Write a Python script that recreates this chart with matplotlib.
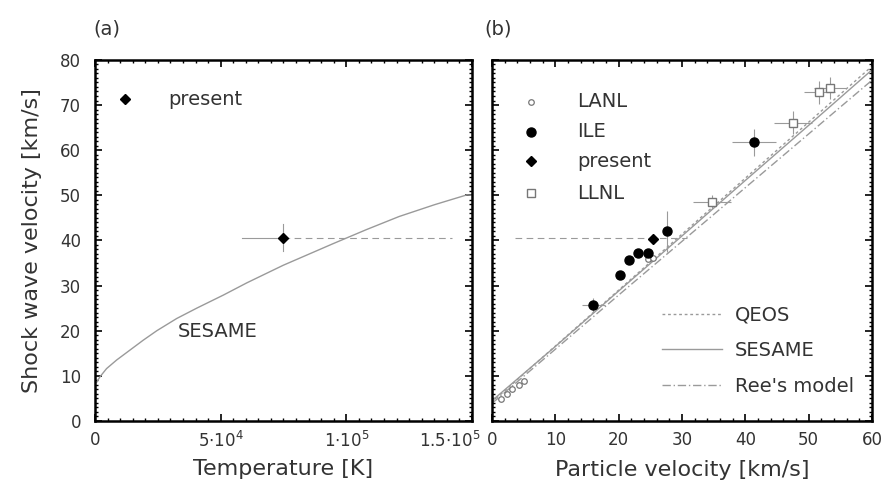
import matplotlib.pyplot as plt
import matplotlib.transforms as mtransforms
from matplotlib.ticker import MultipleLocator, FixedLocator

plt.rcParams['font.family'] = ['DejaVu Sans']

GRAY = '#9a9a9a'
TXT = '#333333'

# ---- panel (a): shock velocity vs temperature ----
sesame_T = [7e2, 2.0e3, 4.6e3, 8.6e3, 13.9e3, 19.2e3, 24.6e3, 32.5e3, 40.5e3,
            51.1e3, 60.4e3, 74.9e3, 94.8e3, 108e3, 121e3, 135e3, 148e3, 150e3]
sesame_Us_T = [8.6, 9.8, 11.6, 13.5, 15.7, 17.9, 20.0, 22.7, 25.0,
               27.9, 30.6, 34.5, 39.3, 42.4, 45.3, 47.9, 50.1, 50.0]

present_T = 7.5e4
present_T_lo = 5.85e4
present_T_hi = 1.42e5
present_Us = 40.6
present_Us_err = 3.0

# ---- panel (b): shock velocity vs particle velocity ----
model_Up = [0, 10, 20, 30, 40, 50, 60]
qeos_Us = [4.2, 16.6, 29.0, 41.4, 53.8, 66.2, 78.6]
sesame_Us = [4.5, 16.5, 28.8, 41.0, 53.3, 65.5, 77.8]
ree_Us = [3.9, 15.9, 27.9, 39.8, 51.7, 63.6, 75.5]

lanl_Up = [1.5, 2.3, 3.2, 4.3, 5.0, 24.6, 25.4]
lanl_Us = [4.8, 5.9, 7.0, 8.0, 8.8, 35.8, 36.2]

ile_Up = [16.0, 20.2, 21.7, 23.1, 24.7, 27.7, 41.4]
ile_Us = [25.7, 32.4, 35.7, 37.2, 37.3, 42.0, 61.8]
ile_xerr = [1.8, 0.0, 0.0, 0.0, 0.0, 0.0, 3.5]
ile_yerr = [1.5, 0.0, 0.0, 0.0, 0.0, 4.5, 3.0]

pres_Up = [25.4]
pres_Us = [40.3]

llnl_Up = [34.8, 47.5, 51.7, 53.4]
llnl_Us = [48.5, 66.1, 72.8, 73.8]
llnl_xerr = [3.0, 3.0, 2.5, 2.5]
llnl_yerr = [1.5, 2.5, 2.5, 2.5]

fig = plt.figure(figsize=(8.86, 4.91), dpi=100)
axa = fig.add_axes([0.1072, 0.1426, 0.4255, 0.7354])
axb = fig.add_axes([0.5553, 0.1426, 0.4289, 0.7354])

# panel (a)
axa.plot(sesame_T, sesame_Us_T, color=GRAY, lw=1.0)
axa.plot([present_T_lo, present_T], [present_Us, present_Us], color=GRAY, lw=0.8)
axa.plot([present_T, present_T_hi], [present_Us, present_Us], color=GRAY, lw=0.8,
         dashes=(6, 4))
axa.plot([present_T, present_T], [present_Us - present_Us_err, present_Us + present_Us_err],
         color=GRAY, lw=0.8)
axa.plot([present_T], [present_Us], 'D', color='black', ms=5.5)
axa.plot([1.2e4], [71.3], 'D', color='black', ms=5.5)
axa.text(2.9e4, 71.3, 'present', fontsize=14, color=TXT, va='center')
axa.text(3.3e4, 19.8, 'SESAME', fontsize=14, color=TXT, va='center')

axa.set_xlim(0, 1.5e5)
axa.set_ylim(0, 80)
axa.xaxis.set_major_locator(FixedLocator([0, 5e4, 1e5, 1.5e5]))
axa.set_xticklabels(['0', r'5$\cdot$10$^4$', r'1$\cdot$10$^5$', r'1.5$\cdot$10$^5$'])
axa.xaxis.set_minor_locator(MultipleLocator(5e3))
axa.yaxis.set_major_locator(MultipleLocator(10))
axa.yaxis.set_minor_locator(MultipleLocator(1))
axa.set_xlabel('Temperature [K]', fontsize=16, color=TXT, labelpad=6)
axa.set_ylabel('Shock wave velocity [km/s]', fontsize=16, color=TXT, labelpad=13)
axa.text(-0.005, 1.07, '(a)', transform=axa.transAxes, fontsize=14, color=TXT)

# panel (b)
axb.plot(model_Up, qeos_Us, color=GRAY, lw=1.0, dashes=(2, 2), label='QEOS')
axb.plot(model_Up, sesame_Us, color=GRAY, lw=1.0, label='SESAME')
axb.plot(model_Up, ree_Us, color=GRAY, lw=1.0, dashes=(6, 2, 1, 2), label="Ree's model")
axb.plot([3.6, 30.8], [40.6, 40.6], color=GRAY, lw=0.8, dashes=(6, 4))

axb.errorbar(ile_Up, ile_Us, xerr=ile_xerr, yerr=ile_yerr, fmt='none',
             ecolor=GRAY, elinewidth=0.8, capsize=0)
axb.errorbar(llnl_Up, llnl_Us, xerr=llnl_xerr, yerr=llnl_yerr, fmt='none',
             ecolor=GRAY, elinewidth=0.8, capsize=0)
axb.plot(lanl_Up, lanl_Us, 'o', mfc='white', mec='#777777', ms=4, mew=0.9, ls='none')
axb.plot(ile_Up, ile_Us, 'o', color='black', ms=6.5, ls='none')
axb.plot(pres_Up, pres_Us, 'D', color='black', ms=5.5, ls='none')
axb.plot(llnl_Up, llnl_Us, 's', mfc='white', mec='#777777', ms=5.5, mew=1.0, ls='none')

# symbol legend
leg_y = [70.7, 64.1, 57.5, 50.5]
axb.plot([6.2], [leg_y[0]], 'o', mfc='white', mec='#777777', ms=4, mew=0.9)
axb.plot([6.2], [leg_y[1]], 'o', color='black', ms=6.5)
axb.plot([6.2], [leg_y[2]], 'D', color='black', ms=5.5)
axb.plot([6.2], [leg_y[3]], 's', mfc='white', mec='#777777', ms=5.5, mew=1.0)
for y, name in zip(leg_y, ['LANL', 'ILE', 'present', 'LLNL']):
    axb.text(13.4, y, name, fontsize=14, color=TXT, va='center')

axb.legend(loc='upper left', frameon=False, fontsize=14, handlelength=3.1,
           handletextpad=0.65, labelcolor=TXT, bbox_to_anchor=(0.447, 0.32),
           borderpad=0, borderaxespad=0, labelspacing=0.86)

axb.set_xlim(0, 60)
axb.set_ylim(0, 80)
axb.xaxis.set_major_locator(MultipleLocator(10))
axb.xaxis.set_minor_locator(MultipleLocator(2))
axb.yaxis.set_major_locator(MultipleLocator(10))
axb.yaxis.set_minor_locator(MultipleLocator(1))
axb.set_yticklabels([])
axb.set_xlabel('Particle velocity [km/s]', fontsize=16, color=TXT, labelpad=8)
axb.text(-0.02, 1.07, '(b)', transform=axb.transAxes, fontsize=14, color=TXT)

for ax in (axa, axb):
    ax.tick_params(which='both', direction='in', top=True, right=True,
                   labelsize=12, labelcolor=TXT, pad=7)
    ax.tick_params(which='major', length=5, width=1.2)
    ax.tick_params(which='minor', length=2.5, width=1.0)
    for s in ax.spines.values():
        s.set_linewidth(1.8)
axa.tick_params(axis='y', pad=10)

# last temperature label sits left of its tick, as in the original
last = axa.get_xticklabels()[-1]
last.set_horizontalalignment('right')
last.set_transform(last.get_transform() +
                   mtransforms.ScaledTranslation(0.08, 0, fig.dpi_scale_trans))

fig.savefig('out.png', dpi=100)
